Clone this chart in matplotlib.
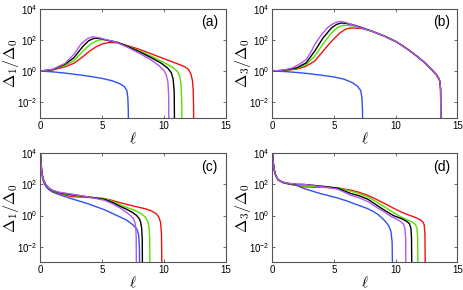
import numpy as np
import matplotlib
matplotlib.use("Agg")
import matplotlib.pyplot as plt
from matplotlib.ticker import FixedLocator, FuncFormatter

plt.rcParams['font.family'] = ['Liberation Sans', 'DejaVu Sans']
plt.rcParams['mathtext.fontset'] = 'cm'

# colours of the five curves
colors = {"blue": "#3050f0", "red": "#ee1111", "green": "#55dd00",
          "black": "#000000", "purple": "#b455f5"}
order = ["blue", "red", "green", "black", "purple"]

# ---- panel (a) : ell values and log10(Delta_1/Delta_0) ----
a_l = {
    "blue":   [0, 1, 2, 3, 4, 5, 5.8, 6.4, 6.8, 7.0, 7.08, 7.12, 7.13],
    "red":    [0, 1, 2, 2.7, 3.4, 4.0, 4.6, 5.1, 5.6, 6.2, 7, 8, 9, 10, 11, 11.7, 12.0, 12.2, 12.32, 12.38, 12.41, 12.42],
    "green":  [0, 1, 2, 2.7, 3.4, 4.0, 4.5, 4.9, 5.3, 6.0, 7, 8, 9, 10, 10.7, 11.1, 11.3, 11.4, 11.45, 11.47],
    "black":  [0, 1, 2, 2.7, 3.4, 3.9, 4.4, 4.9, 5.5, 6.2, 7, 8, 9, 9.8, 10.3, 10.6, 10.75, 10.84, 10.87],
    "purple": [0, 1, 2, 2.7, 3.3, 3.8, 4.2, 4.7, 5.3, 6, 7, 8, 9, 9.6, 10.0, 10.2, 10.33, 10.39, 10.41],
}
a_v = {
    "blue":   [0, -0.05, -0.13, -0.23, -0.34, -0.47, -0.62, -0.8, -1.0, -1.25, -1.7, -2.5, -4],
    "red":    [0, 0.07, 0.28, 0.5, 0.9, 1.3, 1.6, 1.77, 1.84, 1.82, 1.65, 1.4, 1.1, 0.8, 0.5, 0.28, 0.1, -0.2, -0.6, -1.2, -2.2, -4],
    "green":  [0, 0.09, 0.38, 0.66, 1.25, 1.7, 1.93, 2.02, 2.0, 1.88, 1.62, 1.3, 0.95, 0.55, 0.25, -0.02, -0.35, -0.9, -2.0, -4],
    "black":  [0, 0.1, 0.45, 0.85, 1.55, 1.95, 2.12, 2.08, 1.96, 1.86, 1.6, 1.25, 0.85, 0.5, 0.2, -0.1, -0.5, -1.3, -4],
    "purple": [0, 0.12, 0.5, 1.07, 1.75, 2.08, 2.2, 2.15, 2.02, 1.9, 1.55, 1.15, 0.7, 0.35, 0.05, -0.25, -0.7, -1.5, -4],
}

# ---- panel (b) : log10(Delta_3/Delta_0) ----
b_tail_l = [8, 9, 10, 10.5, 11, 11.8, 12.4, 12.9, 13.3, 13.5, 13.58, 13.63, 13.66]
b_tail_v = [2.58, 2.27, 1.9, 1.65, 1.38, 0.9, 0.5, 0.1, -0.25, -0.5, -0.7, -1.2, -4]
b_l = {
    "blue":   [0, 1, 2, 3, 4, 5, 5.8, 6.5, 6.9, 7.15, 7.25, 7.3, 7.31],
    "red":    [0, 1, 2, 2.73, 3.42, 4.1, 4.78, 5.46, 5.9, 6.3, 6.7, 7.2] + b_tail_l,
    "green":  [0, 1, 2, 2.73, 3.42, 4.1, 4.78, 5.3, 5.75, 6.2, 6.7, 7.2] + b_tail_l,
    "black":  [0, 1, 2, 2.73, 3.42, 4.1, 4.78, 5.2, 5.6, 6.0, 6.5, 7.2] + b_tail_l,
    "purple": [0, 1, 1.64, 2.2, 2.73, 3.1, 3.42, 3.8, 4.1, 4.45, 4.78, 5.1, 5.46, 5.8, 6.2, 7.0] + b_tail_l,
}
b_v = {
    "blue":   [0, -0.03, -0.09, -0.17, -0.27, -0.38, -0.52, -0.75, -0.98, -1.25, -1.7, -2.6, -4],
    "red":    [0, 0.04, 0.13, 0.32, 0.64, 1.28, 1.91, 2.45, 2.68, 2.77, 2.76, 2.74] + b_tail_v,
    "green":  [0, 0.05, 0.18, 0.43, 0.96, 1.74, 2.45, 2.82, 2.94, 2.93, 2.88, 2.8] + b_tail_v,
    "black":  [0, 0.06, 0.22, 0.53, 1.28, 2.13, 2.77, 3.0, 3.09, 3.06, 2.98, 2.8] + b_tail_v,
    "purple": [0, 0.08, 0.21, 0.45, 0.74, 1.2, 1.7, 2.15, 2.45, 2.78, 2.98, 3.12, 3.19, 3.15, 3.05, 2.82] + b_tail_v,
}

# ---- panel (c) : log10(Delta_1/Delta_0) ----
c_l = {
    "blue":   [0, 0.05, 0.12, 0.25, 0.45, 0.7, 1.0, 1.5, 2.5, 3.85, 5.2, 6.43, 7.0, 7.5, 7.8, 7.95, 8.02, 8.05],
    "red":    [0, 0.05, 0.12, 0.25, 0.45, 0.7, 1.0, 1.5, 2.5, 3.85, 5.2, 5.8, 6.43, 7.0, 7.5, 8.0, 8.58, 9.0, 9.38, 9.6, 9.74, 9.81, 9.85],
    "green":  [0, 0.05, 0.12, 0.25, 0.45, 0.7, 1.0, 1.5, 2.5, 3.85, 5.2, 5.8, 6.43, 7.0, 7.5, 7.9, 8.2, 8.5, 8.7, 8.8, 8.85, 8.88],
    "black":  [0, 0.05, 0.12, 0.25, 0.45, 0.7, 1.0, 1.5, 2.5, 3.85, 5.2, 5.8, 6.43, 7.0, 7.5, 7.8, 8.0, 8.12, 8.2, 8.25, 8.27],
    "purple": [0, 0.05, 0.12, 0.25, 0.45, 0.7, 1.0, 1.5, 2.5, 3.85, 5.2, 5.8, 6.43, 6.9, 7.3, 7.5, 7.64, 7.72, 7.76, 7.78],
}
c_v = {
    "blue":   [4, 3.2, 2.6, 2.15, 1.85, 1.65, 1.5, 1.35, 1.09, 0.76, 0.37, -0.08, -0.3, -0.6, -0.85, -1.2, -2.0, -4],
    "red":    [4, 3.3, 2.7, 2.25, 1.95, 1.72, 1.58, 1.42, 1.22, 1.17, 1.09, 0.98, 0.83, 0.72, 0.62, 0.53, 0.42, 0.3, 0.12, -0.1, -0.45, -1.2, -4],
    "green":  [4, 3.3, 2.7, 2.25, 1.95, 1.73, 1.6, 1.46, 1.3, 1.2, 1.09, 0.93, 0.7, 0.52, 0.38, 0.24, 0.1, -0.1, -0.38, -0.75, -1.4, -4],
    "black":  [4, 3.3, 2.7, 2.25, 1.95, 1.74, 1.61, 1.48, 1.35, 1.2, 1.04, 0.86, 0.6, 0.4, 0.18, 0.0, -0.2, -0.42, -0.8, -1.5, -4],
    "purple": [4, 3.3, 2.7, 2.25, 1.95, 1.75, 1.62, 1.5, 1.38, 1.2, 0.98, 0.77, 0.5, 0.25, 0.0, -0.18, -0.4, -0.75, -1.4, -4],
}

# ---- panel (d) : log10(Delta_3/Delta_0) ----
d_l = {
    "blue":   [0, 0.05, 0.12, 0.25, 0.45, 0.8, 1.2, 2.0, 2.54, 3.9, 5.28, 6.0, 6.64, 7.2, 7.73, 8.2, 8.5, 8.8, 9.1, 9.4, 9.6, 9.7, 9.74],
    "red":    [0, 0.05, 0.12, 0.25, 0.45, 0.8, 1.2, 2.0, 2.54, 3.5, 3.9, 5.28, 6.37, 7.0, 7.73, 8.4, 9.1, 9.8, 10.47, 11.0, 11.56, 12.0, 12.2, 12.3, 12.36, 12.39],
    "green":  [0, 0.05, 0.12, 0.25, 0.45, 0.8, 1.2, 2.0, 2.54, 3.9, 5.28, 6.37, 7.0, 7.73, 8.4, 9.1, 9.8, 10.47, 11.0, 11.4, 11.6, 11.72, 11.77, 11.79],
    "black":  [0, 0.05, 0.12, 0.25, 0.45, 0.8, 1.2, 2.0, 2.54, 3.9, 5.28, 6.37, 7.0, 7.73, 8.4, 9.1, 9.8, 10.47, 10.9, 11.1, 11.22, 11.27, 11.3],
    "purple": [0, 0.05, 0.12, 0.25, 0.45, 0.8, 1.2, 2.0, 2.54, 3.9, 5.28, 6.37, 7.0, 7.73, 8.4, 9.1, 9.6, 10.0, 10.4, 10.62, 10.74, 10.8, 10.82],
}
d_v = {
    "blue":   [4, 3.5, 3.0, 2.6, 2.3, 2.12, 2.04, 1.92, 1.74, 1.41, 1.13, 0.95, 0.76, 0.6, 0.44, 0.25, 0.1, -0.1, -0.33, -0.62, -1.0, -1.7, -4],
    "red":    [4, 3.5, 3.0, 2.6, 2.3, 2.15, 2.07, 1.96, 1.85, 1.82, 1.82, 1.78, 1.63, 1.5, 1.3, 1.05, 0.77, 0.48, 0.22, 0.05, -0.11, -0.28, -0.42, -0.6, -1.2, -4],
    "green":  [4, 3.5, 3.0, 2.6, 2.3, 2.15, 2.07, 1.98, 1.9, 1.85, 1.78, 1.56, 1.42, 1.2, 0.9, 0.55, 0.2, -0.11, -0.3, -0.45, -0.58, -0.85, -1.4, -4],
    "black":  [4, 3.5, 3.0, 2.6, 2.3, 2.15, 2.07, 2.0, 2.0, 1.9, 1.76, 1.41, 1.28, 1.05, 0.7, 0.33, 0.0, -0.2, -0.38, -0.52, -0.8, -1.4, -4],
    "purple": [4, 3.5, 3.0, 2.6, 2.3, 2.15, 2.08, 2.02, 2.0, 1.87, 1.7, 1.3, 1.15, 0.9, 0.55, 0.22, -0.05, -0.2, -0.38, -0.55, -0.85, -1.5, -4],
}

panels = [
    ("(a)", a_l, a_v, r"$\Delta_1/\Delta_0$", [40.5, 8.8]),
    ("(b)", b_l, b_v, r"$\Delta_3/\Delta_0$", [272.5, 8.8]),
    ("(c)", c_l, c_v, r"$\Delta_1/\Delta_0$", [40.5, 153.3]),
    ("(d)", d_l, d_v, r"$\Delta_3/\Delta_0$", [272.5, 153.3]),
]

W, H = 464, 290
fig = plt.figure(figsize=(W / 100, H / 100), dpi=100)

for tag, ls, vs, ylab, (x0, y0) in panels:
    w, h = 185, 109
    ax = fig.add_axes([x0 / W, 1 - (y0 + h) / H, w / W, h / H])
    for name in order:
        ax.semilogy(ls[name], 10 ** np.array(vs[name]), color=colors[name], lw=1.0)
    ax.set_xlim(0, 15)
    ax.set_ylim(1e-3, 1e4)
    ax.xaxis.set_major_locator(FixedLocator([0, 5, 10, 15]))
    ax.yaxis.set_major_locator(FixedLocator([1e-2, 1, 1e2, 1e4]))
    ax.yaxis.set_minor_locator(FixedLocator([]))
    ax.yaxis.set_major_formatter(FuncFormatter(
        lambda v, p: r"$\mathregular{10^{%d}}$" % round(np.log10(v))))
    ax.tick_params(direction="in", length=2.5, width=0.6, labelsize=7,
                   top=True, right=True, pad=2, color="#555555")
    for s in ax.spines.values():
        s.set_color("#555555")
        s.set_linewidth(0.8)
    ax.set_xlabel(r"$\ell$", fontsize=11, labelpad=0)
    ax.set_ylabel(ylab, fontsize=11.5)
    # right edge of the label sits about 19 px left of the axes
    ax.yaxis.set_label_coords(-19 / w, 0.5)
    ax.text(0.915, 0.875, tag, transform=ax.transAxes, fontsize=10,
            ha="center", va="center")

fig.savefig("out.png", dpi=100)
